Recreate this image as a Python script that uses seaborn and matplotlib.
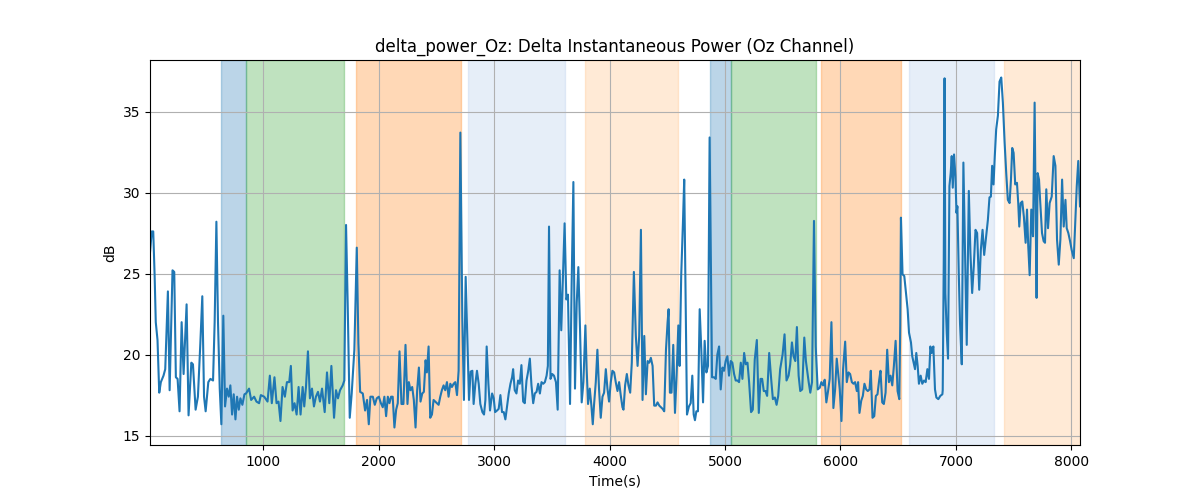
# plot.py
#   Delta instantaneous power on the Oz channel, with the stage blocks shaded
# behind the trace.

import numpy as np
import pandas as pd
import matplotlib
matplotlib.use("Agg")
import matplotlib.pyplot as plt
import seaborn as sns

################################################################################
### [0] Data
################################################################################
time_s = [
    20, 35, 48, 60, 70, 85, 100, 114, 137, 152, 175, 190, 215, 230, 244, 259,
    276, 294, 311, 337, 354, 378, 392, 415, 435, 456, 473, 488, 502, 525, 543,
    566, 580, 595, 609, 624, 638, 655, 670, 687, 702, 716, 731, 745, 760, 774,
    789, 803, 820, 838,
    852, 878, 896, 922, 942, 965, 980, 1009, 1038, 1058, 1075, 1098, 1116,
    1133, 1150, 1168, 1188, 1206, 1226, 1240, 1255, 1272, 1290, 1307, 1324,
    1342, 1356, 1371, 1388, 1405, 1423, 1440, 1457, 1475, 1492, 1510, 1533,
    1553, 1573, 1591, 1614, 1631, 1648, 1666, 1689, 1703, 1718, 1732, 1750,
    1767, 1790, 1811, 1825, 1840, 1863, 1883, 1900, 1915, 1929, 1950, 1967,
    1984, 2002,
    2020, 2036, 2050, 2065, 2080, 2094, 2108, 2122, 2137, 2152, 2166, 2181,
    2198, 2215, 2233, 2250, 2262, 2276, 2291, 2305, 2320, 2334, 2349, 2363,
    2378, 2392, 2407, 2418, 2433, 2447, 2462, 2476, 2490, 2505, 2520, 2534,
    2548, 2563, 2577, 2592, 2606, 2621, 2635, 2650, 2664, 2679, 2693, 2708,
    2725, 2739, 2754, 2768, 2783, 2797, 2812, 2823, 2838, 2852, 2867, 2881,
    2899, 2913, 2925, 2936, 2951, 2965, 2983, 2997, 3009, 3026, 3040, 3055,
    3069, 3084, 3098, 3113, 3127, 3142, 3156, 3165, 3179, 3194, 3208, 3223,
    3237, 3252, 3266, 3281, 3295, 3310, 3324, 3339, 3353, 3368, 3382, 3397,
    3411, 3426, 3440, 3455,
    3466, 3476, 3489, 3504, 3519, 3536, 3551, 3568, 3582, 3597, 3611, 3626,
    3640, 3658, 3672, 3687, 3701, 3716, 3730, 3745, 3759, 3774, 3791, 3802,
    3814, 3829, 3843, 3855, 3866, 3881, 3895, 3909, 3924, 3939, 3953, 3968,
    3982, 3996, 4011, 4025, 4040, 4054, 4069, 4083, 4098, 4112, 4121, 4135,
    4150, 4164, 4179, 4193, 4211, 4228, 4243, 4257, 4272, 4286, 4301, 4315,
    4330, 4344, 4358, 4373, 4387, 4402, 4416, 4431, 4445, 4460, 4474, 4489,
    4503, 4512, 4523, 4537, 4552, 4567, 4581, 4596,
    4607, 4621, 4636, 4647, 4659, 4671, 4688, 4703, 4717, 4729, 4740, 4752,
    4766, 4781, 4795, 4810, 4824, 4839, 4853, 4867, 4879, 4888, 4905, 4920,
    4934, 4949, 4963, 4978, 4992, 5006, 5021, 5035, 5050, 5064, 5079, 5093,
    5108, 5122, 5137, 5151, 5166, 5180, 5195, 5209, 5226, 5241, 5258, 5276,
    5293, 5308, 5322, 5336, 5351, 5365, 5383, 5400, 5415, 5432, 5447, 5461,
    5478, 5499, 5516, 5533, 5551, 5565, 5580, 5594, 5609, 5623, 5638, 5652,
    5669, 5687, 5701,
    5725, 5739, 5754, 5771, 5786, 5803, 5821, 5835, 5850, 5864, 5878, 5893,
    5907, 5922, 5939, 5954, 5968, 5980, 5994, 6009, 6023, 6041, 6055, 6070,
    6084, 6099, 6113, 6127, 6142, 6153, 6165, 6180, 6194, 6208, 6223, 6237,
    6252, 6263, 6278, 6293, 6307, 6321, 6336, 6347, 6362, 6376, 6391, 6405,
    6420, 6434, 6449, 6463, 6478, 6495, 6510, 6518, 6524, 6538, 6553, 6565,
    6582, 6594, 6611, 6622, 6634, 6646, 6657, 6669, 6680, 6695, 6709, 6724,
    6738, 6753, 6767, 6779, 6790, 6805, 6819, 6831, 6848, 6865, 6883,
    6886, 6895, 6902, 6909, 6921, 6932, 6944, 6955, 6964, 6973, 6984, 6996,
    7005, 7013, 7025, 7036, 7051, 7065, 7080, 7094, 7112, 7126, 7141, 7155,
    7170, 7184, 7202, 7216, 7231, 7245, 7259, 7277, 7291, 7303, 7314, 7326,
    7337, 7349, 7364, 7378, 7393, 7407, 7422, 7436, 7450, 7465, 7477, 7488,
    7500, 7514, 7529, 7540, 7549, 7561, 7575, 7589, 7604, 7616, 7627, 7639,
    7653, 7668, 7682, 7691, 7699, 7708, 7720, 7731, 7746, 7760, 7772, 7783,
    7798, 7812, 7830, 7847, 7862, 7876, 7891, 7905, 7920, 7934, 7949, 7960,
    7974, 7989, 8003, 8021, 8032, 8047, 8060, 8075,
]

power_db = [
    26.3, 27.6, 27.6, 24.9, 22.0, 20.9, 17.65, 18.3, 18.7, 19.1, 23.9, 17.8,
    25.2, 25.1, 18.6, 18.5, 16.5, 22.0, 18.8, 23.1, 16.25, 19.5, 19.4, 16.6,
    17.4, 20.7, 23.6, 17.4, 16.5, 18.3, 18.5, 18.4, 22.0, 28.2, 22.0, 17.9,
    15.7, 22.4, 16.8, 17.9, 17.4, 18.1, 16.3, 17.55, 16.0, 17.4, 16.6, 17.3,
    16.9, 17.55,
    17.6, 17.9, 17.2, 17.4, 17.1, 17.0, 17.5, 17.4, 17.1, 18.7, 17.0, 18.6,
    17.0, 17.1, 15.9, 18.0, 17.4, 18.3, 18.3, 19.3, 16.55, 17.0, 16.3, 18.0,
    16.3, 18.0, 16.8, 18.0, 20.2, 17.3, 17.9, 16.8, 17.4, 17.7, 17.1, 17.9,
    16.45, 18.9, 17.0, 19.3, 16.1, 17.8, 17.3, 17.8, 18.1, 18.4, 28.0, 23.2,
    16.1, 17.6, 20.3, 26.6, 20.7, 17.7, 17.6, 16.55, 17.2, 15.7, 17.4, 17.4,
    16.9, 17.3, 17.4,
    17.0, 16.75, 17.4, 16.2, 17.4, 17.0, 17.4, 17.4, 15.5, 16.6, 17.0, 20.2,
    16.95, 16.95, 20.6, 16.95, 18.3, 17.8, 18.0, 17.2, 15.5, 17.8, 19.2, 17.1,
    17.6, 17.7, 19.65, 18.9, 20.5, 16.1, 16.3, 17.2, 17.1, 17.0, 16.9, 17.4,
    17.8, 18.1, 17.8, 18.3, 17.4, 18.2, 18.0, 18.2, 18.3, 17.5, 19.0, 33.7,
    22.3, 17.2, 24.8, 21.1, 17.2, 18.95, 19.0, 16.95, 18.2, 19.0, 18.2, 16.95,
    16.45, 16.3, 17.2, 20.5, 18.2, 16.55, 17.6, 17.3, 16.45, 16.55, 16.65, 17.5,
    16.45, 16.45, 16.0, 16.85, 17.6, 18.2, 18.6, 19.1, 17.8, 17.6, 18.4, 18.2,
    19.35, 17.1, 17.0, 18.4, 18.95, 19.75, 18.1, 17.0, 17.6, 17.7, 18.2, 17.6,
    18.3, 18.2, 18.3, 18.7,
    19.3, 27.9, 18.5, 18.8, 18.7, 18.3, 16.6, 25.2, 21.5, 24.9, 28.1, 23.4,
    23.7, 16.95, 24.4, 30.65, 17.9, 23.2, 25.4, 21.45, 17.05, 18.3, 21.8, 19.1,
    16.95, 17.9, 16.85, 15.7, 16.9, 18.3, 20.3, 17.9, 16.1, 17.4, 17.65, 19.1,
    17.9, 17.1, 18.3, 19.0, 18.9, 18.3, 17.75, 18.3, 17.45, 16.75, 16.6, 18.1,
    18.8, 18.1, 17.65, 19.5, 25.1, 21.15, 19.3, 21.15, 27.7, 17.2, 21.15, 17.55,
    19.6, 19.5, 19.8, 19.3, 16.85, 16.85, 17.05, 16.85, 16.75, 16.65, 16.5, 20.3,
    22.0, 22.8, 17.65, 17.65, 20.6, 16.4, 18.7, 21.8,
    19.3, 24.9, 28.15, 30.8, 23.6, 16.3, 16.8, 17.0, 18.7, 16.3, 15.95, 16.5,
    16.5, 22.8, 20.3, 17.05, 20.85, 18.9, 19.3, 33.4, 24.85, 18.6, 18.6, 18.5,
    20.0, 20.5, 17.85, 19.2, 19.0, 19.6, 19.9, 18.7, 19.6, 19.5, 18.8, 18.4,
    18.4, 18.3, 19.5, 18.5, 20.1, 19.4, 19.5, 18.3, 16.45, 16.6, 19.7, 20.9,
    16.4, 18.5, 18.5, 17.75, 17.75, 17.45, 20.1, 18.5, 17.25, 17.35, 16.9, 17.45,
    19.1, 20.0, 21.25, 18.4, 18.7, 19.4, 20.75, 19.9, 19.6, 21.7, 18.7, 17.75,
    17.85, 21.05, 19.6,
    18.3, 17.65, 18.3, 28.25, 20.5, 17.85, 17.95, 18.3, 18.1, 18.45, 17.05, 17.75,
    18.5, 22.0, 16.7, 17.85, 19.75, 18.9, 17.85, 15.9, 19.1, 20.8, 18.3, 18.9,
    18.8, 18.3, 18.2, 18.3, 17.75, 18.3, 16.4, 17.15, 17.45, 18.2, 17.85, 17.75,
    17.85, 19.0, 16.1, 16.2, 17.45, 17.55, 18.45, 19.0, 17.05, 16.95, 17.65, 20.3,
    18.3, 18.7, 18.1, 19.3, 20.85, 17.75, 17.25, 21.8, 28.45, 24.95, 24.85, 24.0,
    22.8, 21.35, 20.75, 19.9, 19.5, 19.1, 20.1, 19.3, 18.2, 18.7, 18.2, 18.4,
    18.3, 19.1, 18.5, 20.5, 20.1, 20.5, 17.85, 17.35, 17.25, 17.45, 17.55,
    17.8, 25.85, 37.05, 23.8, 21.3, 19.75, 30.4, 31.2, 32.25, 30.3, 32.35, 31.0,
    28.75, 29.15, 25.0, 21.9, 19.4, 31.85, 25.85, 20.6, 30.1, 26.25, 23.8, 25.45,
    27.7, 27.5, 24.0, 26.45, 27.7, 26.15, 27.1, 28.3, 29.7, 29.75, 31.65, 30.5,
    32.25, 33.9, 34.75, 36.85, 37.1, 35.55, 33.1, 31.2, 29.55, 29.35, 30.8, 32.75,
    32.45, 30.5, 30.6, 29.35, 27.9, 29.35, 29.45, 28.5, 26.9, 28.95, 26.65, 24.9,
    28.95, 27.3, 35.55, 28.75, 23.5, 31.2, 30.8, 29.35, 27.5, 27.0, 26.9, 30.2,
    27.8, 29.35, 29.75, 32.25, 31.65, 27.1, 25.55, 27.1, 30.8, 27.9, 29.55, 27.8,
    27.5, 27.0, 26.45, 25.95, 27.9, 30.4, 31.95, 29.15,
]

# shaded blocks: start, end, colour, alpha
span_start = [635, 852, 1808, 2772, 3788, 4874, 5056, 5829, 6593, 7418]
span_end   = [852, 1703, 2711, 3614, 4596, 5056, 5786, 6524, 7331, 8075]
span_color = ["tab:blue", "tab:green", "tab:orange", "#aec7e8", "#ffbb78",
              "tab:blue", "tab:green", "tab:orange", "#aec7e8", "#ffbb78"]

df = pd.DataFrame({"t": time_s, "db": power_db})

################################################################################
### [1] Plot
################################################################################
fig, ax = plt.subplots(figsize=(12, 5), dpi=100)

for s, e, c in zip(span_start, span_end, span_color):
    ax.axvspan(s, e, color=c, alpha=0.3, lw=1)

sns.lineplot(data=df, x="t", y="db", ax=ax, color="tab:blue", lw=1.5,
             estimator=None, sort=False)

ax.set_xlim(df.t.min(), df.t.max())
ax.grid(True)
ax.set_title("delta_power_Oz: Delta Instantaneous Power (Oz Channel)")
ax.set_xlabel("Time(s)")
ax.set_ylabel("dB")

plt.savefig("out.png")
plt.close("all")
